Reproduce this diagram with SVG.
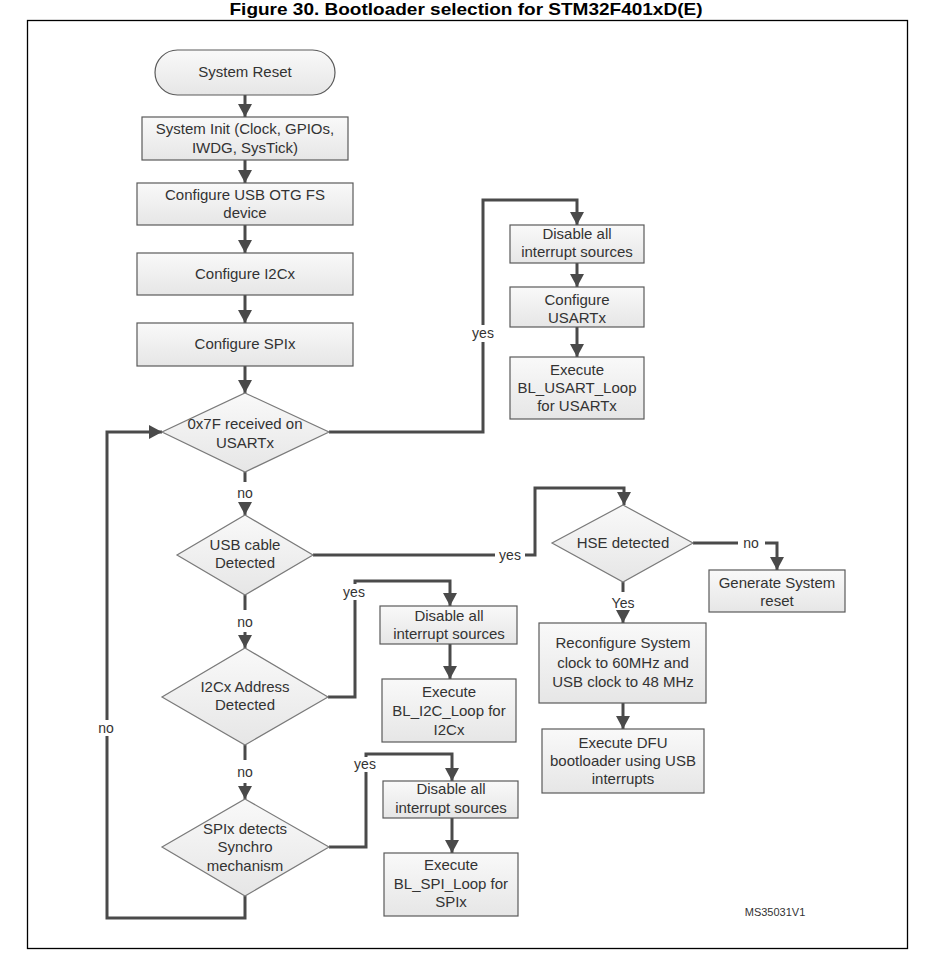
<svg xmlns="http://www.w3.org/2000/svg" width="940" height="962" viewBox="0 0 940 962">
<defs>
<linearGradient id="g" x1="0" y1="0" x2="0" y2="1">
<stop offset="0" stop-color="#f9f9f9"/>
<stop offset="1" stop-color="#e6e6e6"/>
</linearGradient>
<marker id="ah" markerUnits="userSpaceOnUse" markerWidth="14" markerHeight="14" refX="13" refY="7" orient="auto">
<path d="M0,0 L13,7 L0,14 z" fill="#4a4a4a"/>
</marker>
</defs>
<style>
.box{fill:url(#g);stroke:#5a5a5a;stroke-width:1.2}
.dia{fill:url(#g);stroke:#7a7a7a;stroke-width:1.2}
.t{font-family:"Liberation Sans",Arial,sans-serif;font-size:15px;fill:#333;text-anchor:middle}
.lb{font-family:"Liberation Sans",Arial,sans-serif;font-size:14px;fill:#333;text-anchor:middle}
.c{fill:none;stroke:#4a4a4a;stroke-width:3}
.a{marker-end:url(#ah)}
</style>
<rect width="940" height="962" fill="#fff"/>
<text x="466" y="15" font-family="'Liberation Sans Narrow','Liberation Sans',Arial,sans-serif" font-weight="bold" font-size="17" text-anchor="middle" fill="#000" textLength="473" lengthAdjust="spacingAndGlyphs">Figure 30. Bootloader selection for STM32F401xD(E)</text>
<rect x="27.5" y="20.5" width="880" height="928" fill="none" stroke="#000" stroke-width="1.3"/>

<g id="connectors">
<path class="c a" d="M245,95 V117"/>
<path class="c a" d="M245,160 V183"/>
<path class="c a" d="M245,225 V253"/>
<path class="c a" d="M245,295 V323"/>
<path class="c a" d="M245,366 V393"/>
<path class="c" d="M245,472 V482"/>
<path class="c a" d="M245,503 V515"/>
<path class="c" d="M245,595 V610"/>
<path class="c a" d="M245,632 V648"/>
<path class="c" d="M245,745 V760"/>
<path class="c a" d="M245,783 V799"/>
<path class="c a" d="M245,896 V918 H107 V432 H162"/>
<path class="c a" d="M329,432 H483 V200 H577 V225"/>
<path class="c a" d="M577,263 V287"/>
<path class="c a" d="M577,327 V357"/>
<path class="c" d="M313,555 H495"/>
<path class="c a" d="M525,555 H535 V488 H624 V505"/>
<path class="c" d="M693,543 H738"/>
<path class="c a" d="M765,543 H777 V570"/>
<path class="c" d="M623,582 V592"/>
<path class="c a" d="M623,612 V623"/>
<path class="c a" d="M623,703 V729"/>
<path class="c a" d="M328,697 H355 V581 H450 V606"/>
<path class="c a" d="M450,644 V679"/>
<path class="c a" d="M329,847 H366 V754 H452 V781"/>
<path class="c a" d="M452,818 V853"/>
<rect x="467" y="325" width="32" height="17" fill="#fff"/>
<text class="lb" x="483" y="338">yes</text>
<text class="lb" x="245" y="498">no</text>
<text class="lb" x="245" y="627">no</text>
<text class="lb" x="245" y="777">no</text>
<rect x="95" y="720" width="24" height="16" fill="#fff"/>
<text class="lb" x="106" y="733">no</text>
<text class="lb" x="510" y="560">yes</text>
<text class="lb" x="751" y="548">no</text>
<text class="lb" x="623" y="608">Yes</text>
<rect x="342" y="584" width="25" height="16" fill="#fff"/>
<text class="lb" x="354" y="597" font-family="'Open Sans',sans-serif" font-size="12">yes</text>
<rect x="353" y="757" width="25" height="15" fill="#fff"/>
<text class="lb" x="365" y="769" font-family="'Open Sans',sans-serif" font-size="12">yes</text>
</g>

<g id="system-reset">
<rect class="box" x="155" y="50" width="180" height="45" rx="22.5" stroke="#7a7a7a"/>
<text class="t" x="245" y="77">System Reset</text>
</g>
<g id="system-init">
<rect class="box" x="142" y="117" width="206" height="43"/>
<text class="t" x="245" y="134">System Init (Clock, GPIOs,</text>
<text class="t" x="245" y="153">IWDG, SysTick)</text>
</g>
<g id="config-usb">
<rect class="box" x="137" y="183" width="216" height="42"/>
<text class="t" x="245" y="200">Configure USB OTG FS</text>
<text class="t" x="245" y="218">device</text>
</g>
<g id="config-i2c">
<rect class="box" x="137" y="253" width="216" height="42"/>
<text class="t" x="245" y="279">Configure I2Cx</text>
</g>
<g id="config-spi">
<rect class="box" x="137" y="323" width="216" height="43"/>
<text class="t" x="245" y="349">Configure SPIx</text>
</g>
<g id="dec-usart">
<polygon class="dia" points="245,393 329,432 245,472 162,432"/>
<text class="t" x="245" y="429">0x7F received on</text>
<text class="t" x="245" y="448">USARTx</text>
</g>
<g id="usart-disable">
<rect class="box" x="510" y="225" width="134" height="38"/>
<text class="t" x="577" y="239">Disable all</text>
<text class="t" x="577" y="257">interrupt sources</text>
</g>
<g id="usart-config">
<rect class="box" x="510" y="287" width="134" height="40"/>
<text class="t" x="577" y="305">Configure</text>
<text class="t" x="577" y="323">USARTx</text>
</g>
<g id="usart-exec">
<rect class="box" x="510" y="357" width="134" height="62"/>
<text class="t" x="577" y="375">Execute</text>
<text class="t" x="577" y="393">BL_USART_Loop</text>
<text class="t" x="577" y="411">for USARTx</text>
</g>
<g id="dec-usb">
<polygon class="dia" points="245,515 313,555 245,595 177,555"/>
<text class="t" x="245" y="550">USB cable</text>
<text class="t" x="245" y="568">Detected</text>
</g>
<g id="dec-hse">
<polygon class="dia" points="623,505 693,543 623,582 552,543"/>
<text class="t" x="623" y="548">HSE detected</text>
</g>
<g id="gen-reset">
<rect class="box" x="709" y="570" width="136" height="42"/>
<text class="t" x="777" y="588">Generate System</text>
<text class="t" x="777" y="606">reset</text>
</g>
<g id="reconfig">
<rect class="box" x="539" y="623" width="167" height="80"/>
<text class="t" x="623" y="648">Reconfigure System</text>
<text class="t" x="623" y="668">clock to 60MHz and</text>
<text class="t" x="623" y="687">USB clock to 48 MHz</text>
</g>
<g id="dfu">
<rect class="box" x="542" y="729" width="162" height="64"/>
<text class="t" x="623" y="748">Execute DFU</text>
<text class="t" x="623" y="766">bootloader using USB</text>
<text class="t" x="623" y="784">interrupts</text>
</g>
<g id="dec-i2c">
<polygon class="dia" points="245,648 328,697 245,745 162,697"/>
<text class="t" x="245" y="692">I2Cx Address</text>
<text class="t" x="245" y="710">Detected</text>
</g>
<g id="i2c-disable">
<rect class="box" x="380" y="606" width="137" height="38"/>
<text class="t" x="449" y="621">Disable all</text>
<text class="t" x="449" y="639">interrupt sources</text>
</g>
<g id="i2c-exec">
<rect class="box" x="382" y="679" width="134" height="63"/>
<text class="t" x="449" y="697">Execute</text>
<text class="t" x="449" y="716">BL_I2C_Loop for</text>
<text class="t" x="449" y="735">I2Cx</text>
</g>
<g id="dec-spi">
<polygon class="dia" points="245,799 329,847 245,896 162,847"/>
<text class="t" x="245" y="834">SPIx detects</text>
<text class="t" x="245" y="852">Synchro</text>
<text class="t" x="245" y="871">mechanism</text>
</g>
<g id="spi-disable">
<rect class="box" x="383" y="781" width="135" height="37"/>
<text class="t" x="451" y="794">Disable all</text>
<text class="t" x="451" y="813">interrupt sources</text>
</g>
<g id="spi-exec">
<rect class="box" x="384" y="853" width="134" height="63"/>
<text class="t" x="451" y="870">Execute</text>
<text class="t" x="451" y="889">BL_SPI_Loop for</text>
<text class="t" x="451" y="907">SPIx</text>
</g>
<text x="775" y="916" font-family="'Liberation Sans',Arial,sans-serif" font-size="11" fill="#333" text-anchor="middle">MS35031V1</text>
</svg>
